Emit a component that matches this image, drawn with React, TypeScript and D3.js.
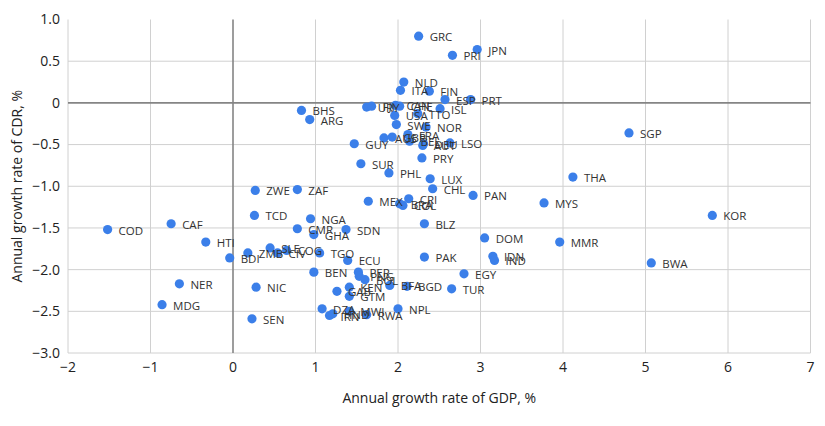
import React, { useEffect, useRef } from "react";
import * as d3 from "d3";

const countries = [
  "GRC","JPN","PRI","NLD","ITA","FIN","ESP","PRT","BHS","ARG","URY","FJI","CAN","CHE","USA","TTO","ISL","SWE","NOR","FRA","AUS","GBR","BEL","GUY","AUT","DEU","LSO","PRY","SUR","PHL","LUX","CHL","PAN","ZWE","ZAF","MEX","CRI","BRA","COL","TCD","NGA","CMR","GHA","SDN","BLZ","DOM","HTI","BDI","ZMB","SLE","CIV","COG","TGO","ECU","PAK","IDN","IND","COD","CAF","NER","MDG","NIC","BEN","PER","PNG","BOL","KEN","GAB","GTM","BFA","BGD","TUR","EGY","DZA","IRN","HND","MWI","RWA","NPL","SEN","SGP","THA","MYS","KOR","MMR","BWA"
];
const gdpGrowth = [
  2.25,2.96,2.66,2.07,2.03,2.38,2.57,2.88,0.83,0.93,1.62,1.68,1.97,2.02,1.96,2.24,2.51,1.98,2.34,2.12,1.83,1.93,2.14,1.47,2.30,2.31,2.63,2.29,1.55,1.89,2.39,2.42,2.91,0.27,0.78,1.64,2.13,2.02,2.06,0.26,0.94,0.78,0.98,1.37,2.32,3.05,-0.33,-0.04,0.18,0.45,0.54,0.65,1.05,1.39,2.32,3.15,3.17,-1.52,-0.75,-0.65,-0.86,0.28,0.98,1.52,1.53,1.60,1.41,1.26,1.41,1.90,2.11,2.65,2.80,1.08,1.17,1.21,1.41,1.62,2.00,0.23,4.80,4.12,3.77,5.81,3.96,5.07
];
const cdrGrowth = [
  0.80,0.64,0.57,0.25,0.15,0.14,0.04,0.04,-0.09,-0.20,-0.05,-0.04,-0.03,-0.04,-0.15,-0.13,-0.07,-0.26,-0.29,-0.38,-0.42,-0.41,-0.46,-0.49,-0.51,-0.49,-0.48,-0.66,-0.73,-0.84,-0.91,-1.03,-1.11,-1.05,-1.04,-1.18,-1.15,-1.21,-1.23,-1.35,-1.39,-1.51,-1.58,-1.52,-1.45,-1.62,-1.67,-1.86,-1.80,-1.74,-1.80,-1.77,-1.80,-1.89,-1.85,-1.84,-1.89,-1.52,-1.45,-2.17,-2.42,-2.21,-2.03,-2.03,-2.08,-2.12,-2.21,-2.26,-2.32,-2.19,-2.20,-2.23,-2.05,-2.47,-2.55,-2.53,-2.50,-2.54,-2.47,-2.59,-0.36,-0.89,-1.20,-1.35,-1.67,-1.92
];
const xTicks = [-2, -1, 0, 1, 2, 3, 4, 5, 6, 7];
const yTicks = [1.0, 0.5, 0, -0.5, -1.0, -1.5, -2.0, -2.5, -3.0];
const xTitle = "Annual growth rate of GDP, %";
const yTitle = "Annual growth rate of CDR, %";

const W = 825, H = 426;
const M = { left: 68, right: 810.5, top: 19.5, bottom: 353 };
const FONT = "'Open Sans', 'Noto Sans', sans-serif";

export default function App() {
  const ref = useRef<SVGSVGElement>(null);
  useEffect(() => {
    const svg = d3.select(ref.current);
    svg.selectAll("*").remove();
    const x = d3.scaleLinear().domain([-2, 7]).range([M.left, M.right]);
    const y = d3.scaleLinear().domain([-3, 1]).range([M.bottom, M.top]);

    const g = svg.append("g");
    // grid
    g.selectAll("line.vx").data(xTicks.filter(t => t !== 0)).enter().append("line")
      .attr("x1", d => x(d)).attr("x2", d => x(d)).attr("y1", y(1)).attr("y2", y(-3))
      .attr("stroke", "#d0d0d0").attr("stroke-width", 1);
    g.selectAll("line.hy").data(yTicks.filter(t => t !== 0 && t !== 1)).enter().append("line")
      .attr("x1", x(-2)).attr("x2", x(7)).attr("y1", d => y(d)).attr("y2", d => y(d))
      .attr("stroke", "#d0d0d0").attr("stroke-width", 1);
    // zero lines
    g.append("line").attr("x1", x(-2)).attr("x2", x(7)).attr("y1", y(0)).attr("y2", y(0))
      .attr("stroke", "#858585").attr("stroke-width", 1.6);
    g.append("line").attr("x1", x(0)).attr("x2", x(0)).attr("y1", y(1)).attr("y2", y(-3))
      .attr("stroke", "#858585").attr("stroke-width", 1.6);

    // tick labels
    g.selectAll("text.xt").data(xTicks).enter().append("text")
      .attr("x", d => x(d)).attr("y", y(-3) + 19)
      .attr("text-anchor", "middle").attr("font-family", FONT).attr("font-size", 14)
      .attr("fill", "#222")
      .text(d => (d < 0 ? "\u2212" + Math.abs(d) : String(d)));
    g.selectAll("text.yt").data(yTicks).enter().append("text")
      .attr("x", M.left - 8).attr("y", d => y(d)).attr("dy", "0.35em")
      .attr("text-anchor", "end").attr("font-family", FONT).attr("font-size", 14)
      .attr("fill", "#222")
      .text(d => {
        if (d === 0) return "0";
        const s = Math.abs(d).toFixed(1);
        return d < 0 ? "\u2212" + s : s;
      });

    // titles
    g.append("text").attr("x", (M.left + M.right) / 2).attr("y", 403)
      .attr("text-anchor", "middle").attr("font-family", FONT).attr("font-size", 14)
      .attr("fill", "#222").text(xTitle);
    g.append("text").attr("transform", `translate(22, ${(M.top + M.bottom) / 2}) rotate(-90)`)
      .attr("text-anchor", "middle").attr("font-family", FONT).attr("font-size", 14)
      .attr("fill", "#222").text(yTitle);

    const data = countries.map((c, i) => ({ c, gx: gdpGrowth[i], cy: cdrGrowth[i] }));
    // points
    g.selectAll("circle").data(data).enter().append("circle")
      .attr("cx", d => x(d.gx)).attr("cy", d => y(d.cy)).attr("r", 4.6)
      .attr("fill", "#3b7fe9");
    // labels
    g.selectAll("text.lbl").data(data).enter().append("text")
      .attr("x", d => x(d.gx) + 11).attr("y", d => y(d.cy) + 1).attr("dy", "0.35em")
      .attr("font-family", FONT).attr("font-size", 11.5).attr("fill", "#333")
      .text(d => d.c);
  }, []);
  return (
    <div style={{ position: "absolute", left: 0, top: 0 }}>
      <svg ref={ref} width={W} height={H} style={{ display: "block", background: "#fff" }} />
    </div>
  );
}
